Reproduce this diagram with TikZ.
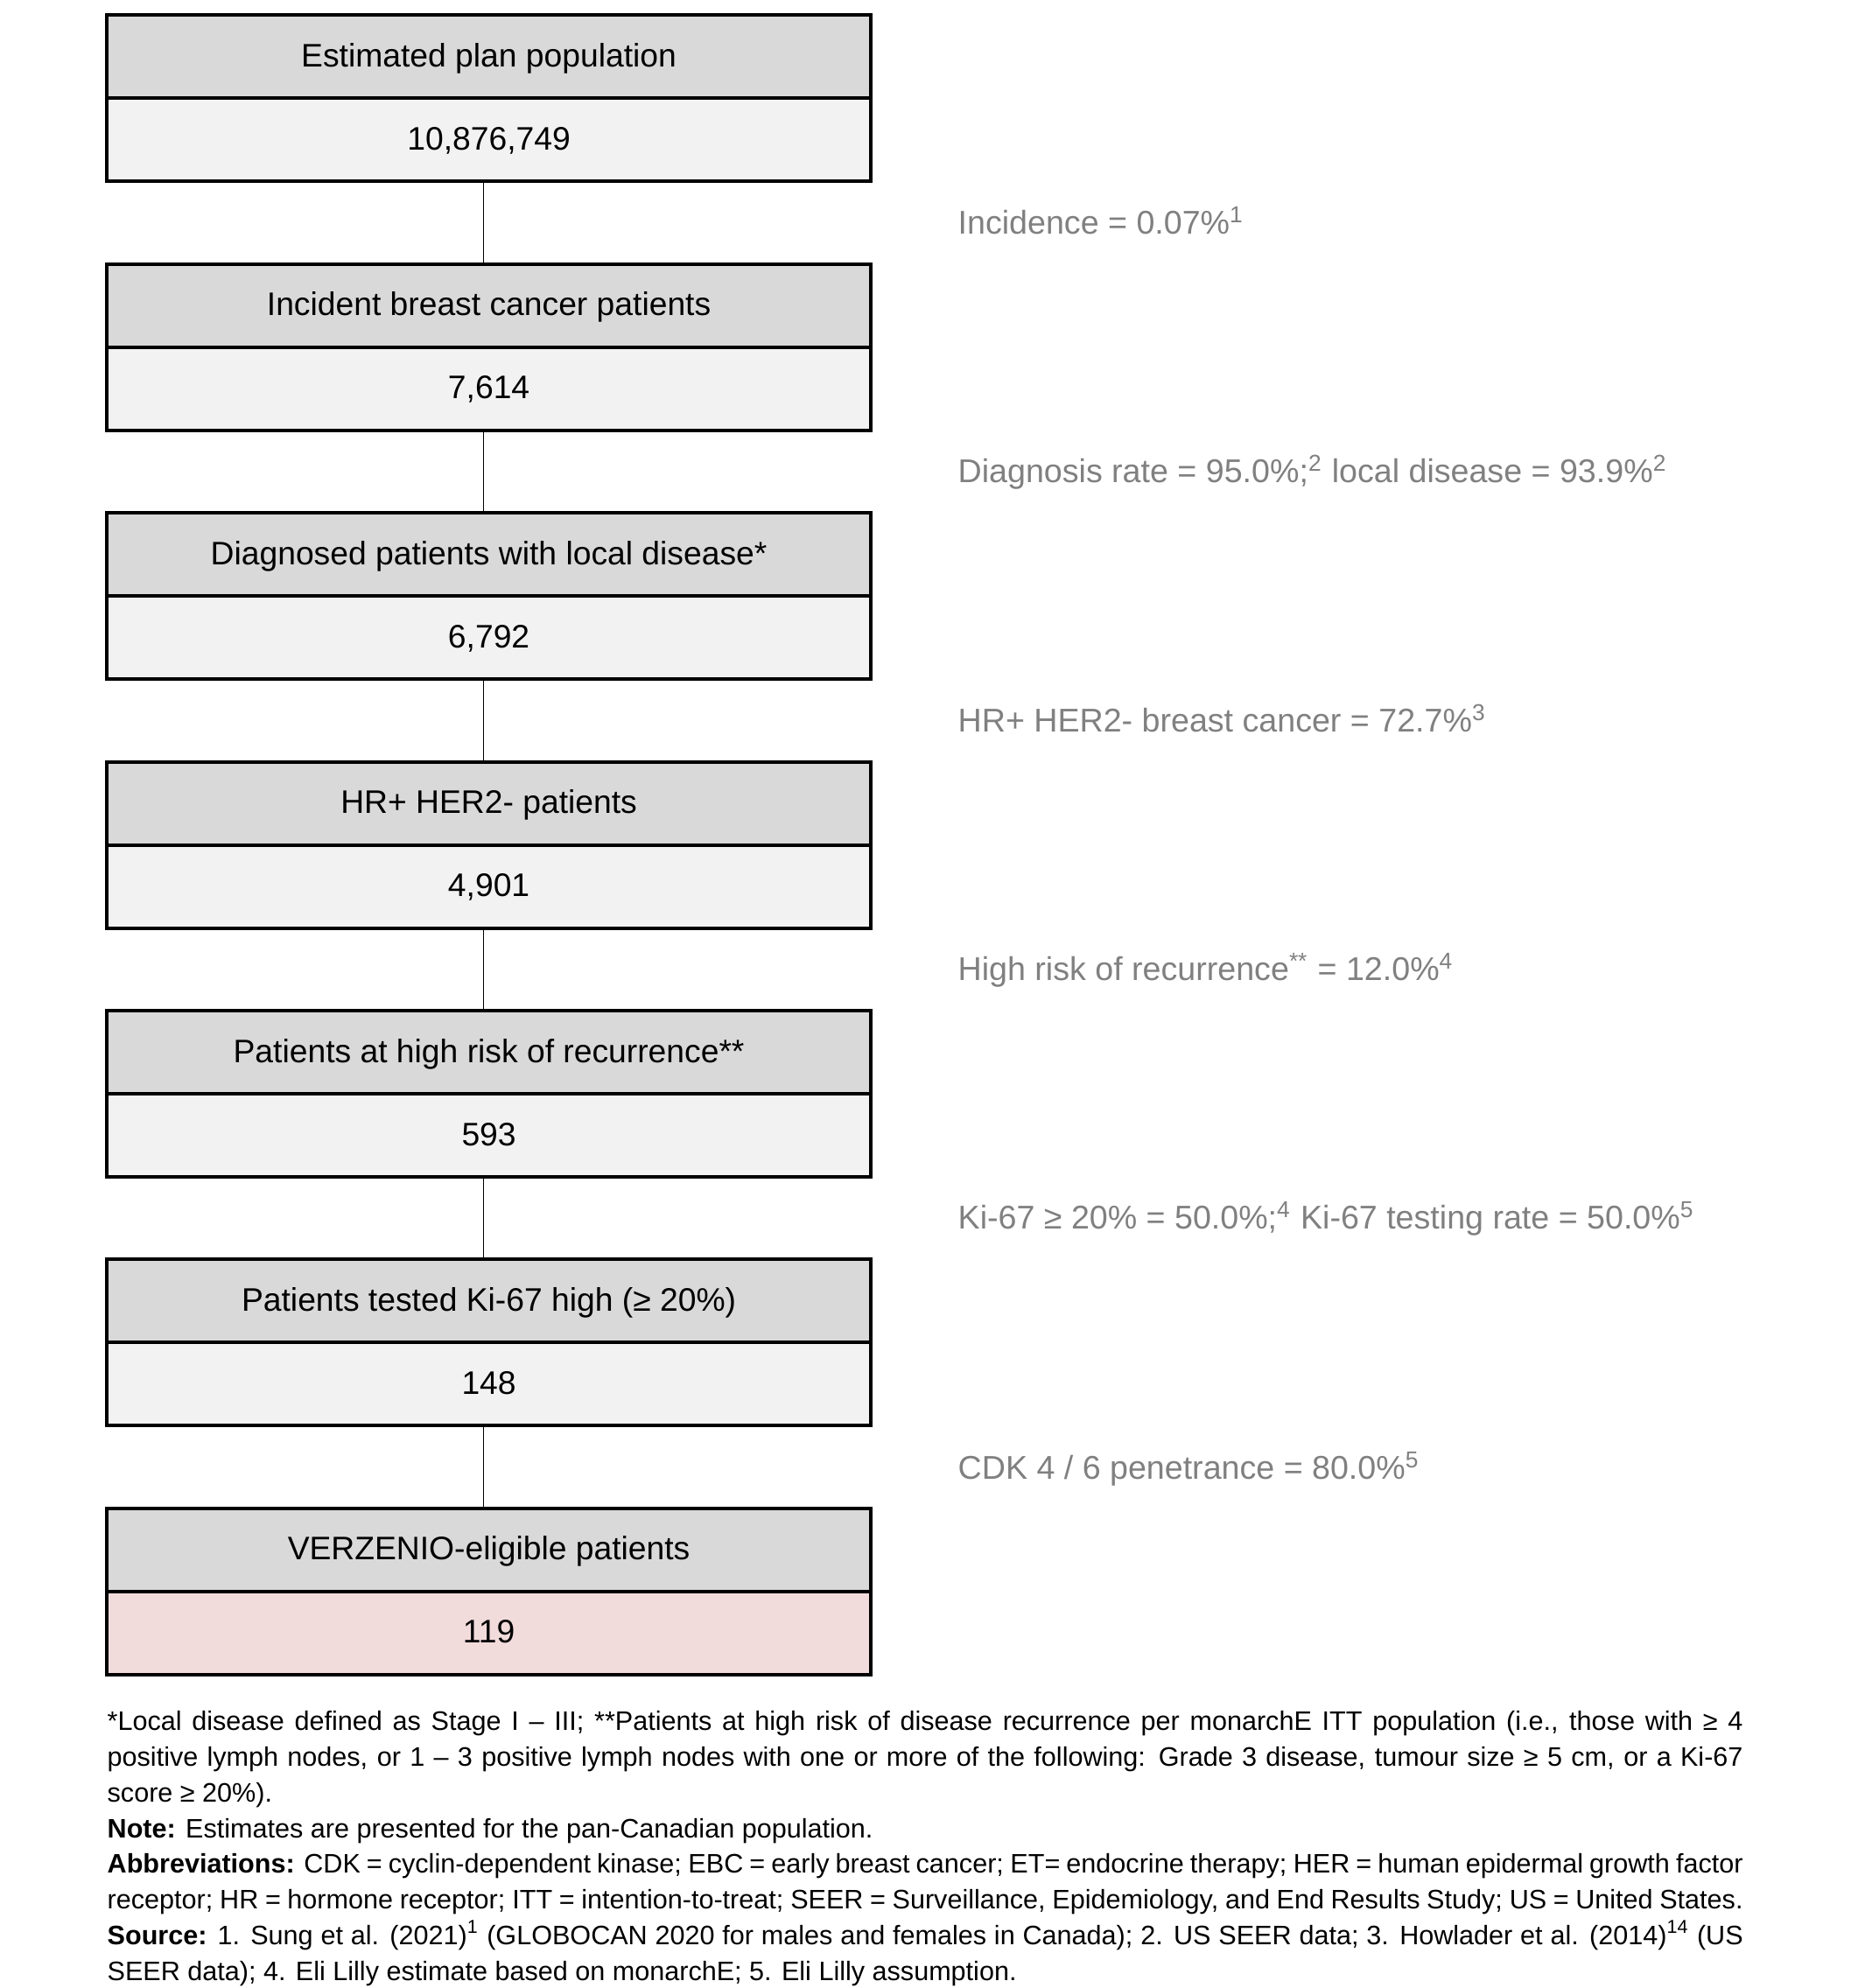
\documentclass[tikz,border=0pt]{standalone}
\usepackage{fontspec}
\setmainfont{Liberation Sans}
\usetikzlibrary{positioning}
\definecolor{hdrgray}{HTML}{D9D9D9}
\definecolor{valgray}{HTML}{F2F2F2}
\definecolor{valpink}{HTML}{F2DCDB}
\definecolor{rategray}{HTML}{808080}

\begin{document}
\begin{tikzpicture}[
  hdr/.style={draw=black,line width=1.1pt,fill=hdrgray,minimum width=8.73cm,minimum height=0.95cm,inner sep=0pt,outer sep=0pt,text height=1.45ex,text depth=0.2ex,font=\fontsize{10.6}{12}\selectfont},
  val/.style={hdr,fill=valgray},
  link/.style={draw=black,line width=0.5pt},
  rate/.style={anchor=base west,text=rategray,inner sep=0pt,font=\fontsize{10.7}{12}\selectfont},
  node distance=0.944cm]
\useasboundingbox (0,0) rectangle (21.3,22.72);

\node[hdr,anchor=north] (h1) at (5.586,22.546) {Estimated plan population};
\node[val,below=0pt of h1] (v1) {10,876,749};
\node[hdr,below=of v1] (h2) {Incident breast cancer patients};
\node[val,below=0pt of h2] (v2) {7,614};
\node[hdr,below=of v2] (h3) {Diagnosed patients with local disease*};
\node[val,below=0pt of h3] (v3) {6,792};
\node[hdr,below=of v3] (h4) {HR+ HER2- patients};
\node[val,below=0pt of h4] (v4) {4,901};
\node[hdr,below=of v4] (h5) {Patients at high risk of recurrence**};
\node[val,below=0pt of h5] (v5) {593};
\node[hdr,below=of v5] (h6) {Patients tested Ki-67 high (≥ 20\%)};
\node[val,below=0pt of h6] (v6) {148};
\node[hdr,below=of v6] (h7) {VERZENIO-eligible patients};
\node[val,fill=valpink,below=0pt of h7] (v7) {119};

\draw[link] ([xshift=-0.06cm]v1.south) -- ([xshift=-0.06cm]h2.north);
\draw[link] ([xshift=-0.06cm]v2.south) -- ([xshift=-0.06cm]h3.north);
\draw[link] ([xshift=-0.06cm]v3.south) -- ([xshift=-0.06cm]h4.north);
\draw[link] ([xshift=-0.06cm]v4.south) -- ([xshift=-0.06cm]h5.north);
\draw[link] ([xshift=-0.06cm]v5.south) -- ([xshift=-0.06cm]h6.north);
\draw[link] ([xshift=-0.06cm]v6.south) -- ([xshift=-0.06cm]h7.north);

\node[rate] (r1) at (10.94,20.04) {Incidence = 0.07\%\textsuperscript{1}};
\node[rate] (r2) at (10.94,17.20) {Diagnosis rate = 95.0\%;\textsuperscript{2} local disease = 93.9\%\textsuperscript{2}};
\node[rate] (r3) at (10.94,14.35) {HR+ HER2- breast cancer = 72.7\%\textsuperscript{3}};
\node[rate] (r4) at (10.94,11.51) {High risk of recurrence\textsuperscript{**} = 12.0\%\textsuperscript{4}};
\node[rate] (r5) at (10.94,8.67) {Ki-67 ≥ 20\% = 50.0\%;\textsuperscript{4} Ki-67 testing rate = 50.0\%\textsuperscript{5}};
\node[rate] (r6) at (10.94,5.81) {CDK 4 / 6 penetrance = 80.0\%\textsuperscript{5}};

\node[anchor=north west,inner sep=0pt,text width=18.69cm,align=justify,font=\fontsize{8.7}{11.6}\selectfont] (notes) at (1.22,3.17) {\setlength{\parindent}{0pt}%
*Local disease defined as Stage I – III; **Patients at high risk of disease recurrence per monarchE ITT population (i.e., those with ≥ 4\linebreak
positive lymph nodes, or 1 – 3 positive lymph nodes with one or more of the following: Grade 3 disease, tumour size ≥ 5 cm, or a Ki-67\linebreak
score ≥ 20\%).\par
\textbf{Note:} Estimates are presented for the pan-Canadian population.\par
\textbf{Abbreviations:} CDK = cyclin-dependent kinase; EBC = early breast cancer; ET= endocrine therapy; HER = human epidermal growth factor\linebreak
receptor; HR = hormone receptor; ITT = intention-to-treat; SEER = Surveillance, Epidemiology, and End Results Study; US = United States.\par
\textbf{Source:} 1. Sung et al. (2021)\textsuperscript{1} (GLOBOCAN 2020 for males and females in Canada); 2. US SEER data; 3. Howlader et al. (2014)\textsuperscript{14} (US\linebreak
SEER data); 4. Eli Lilly estimate based on monarchE; 5. Eli Lilly assumption.};

\end{tikzpicture}
\end{document}
